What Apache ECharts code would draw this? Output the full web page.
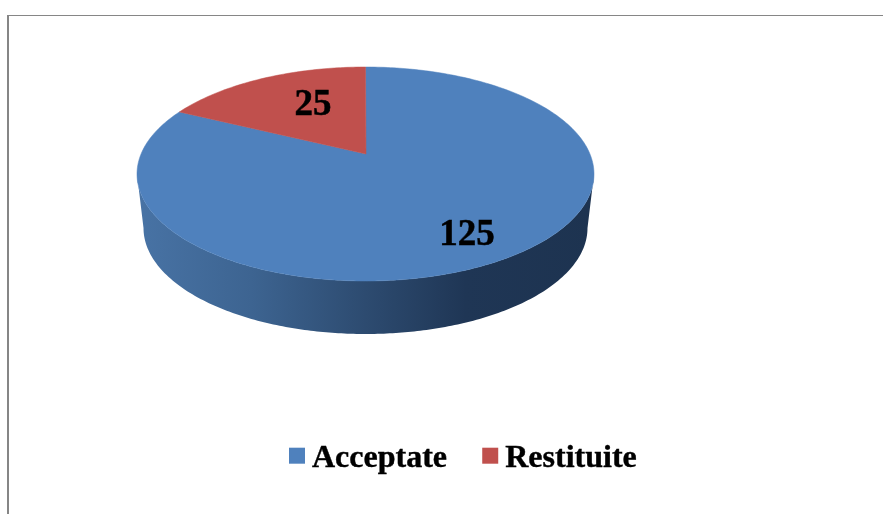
<!DOCTYPE html>
<html>
<head>
<meta charset="utf-8">
<style>html,body{margin:0;padding:0;background:#fff}#c{width:883px;height:514px}</style>
<script src="https://cdn.jsdelivr.net/npm/echarts@6/dist/echarts.min.js"></script>
</head>
<body>
<div id="c"></div>
<script>
const categories = ['Acceptate', 'Restituite'];
const values = [125, 25];
const colors = ['#4f81bd', '#c0504d'];

// Projection of the tilted disc on the page
const top_ = { cx: 365.5, cy: 174, rx: 228.5, ry: 107 };
const bottom_ = { cx: 365.5, cy: 228, rx: 222, ry: 106 };
const apex = { x: 366, y: 154 };
const perspectiveDeg = 6.3;
const labelPos = [{ x: 467, y: 235 }, { x: 313, y: 105 }];
const serif = '"Liberation Serif","Times New Roman",serif';

const total = values.reduce((a, b) => a + b, 0);
const rad = d => d * Math.PI / 180;
const warp = d => d - perspectiveDeg * Math.sin(rad(2 * d));
const rim = (e, d) => {
  const t = rad(warp(d));
  return [e.cx + e.rx * Math.sin(t), e.cy - e.ry * Math.cos(t)];
};
function arc(e, a, b) {
  const pts = [];
  const n = Math.max(2, Math.ceil(Math.abs(b - a)));
  for (let i = 0; i <= n; i++) pts.push(rim(e, a + (b - a) * i / n));
  return pts;
}

function renderSlice(index) {
  return function (params, api) {
    const val = api.value(0);
    const before = values.slice(0, index).reduce((a, b) => a + b, 0);
    const a = before / total * 360;
    const b = a + val / total * 360;
    const color = colors[index];
    const children = [];
    const s0 = Math.max(a, 90), s1 = Math.min(b, 270);
    if (s1 > s0) {
      children.push({
        type: 'polygon',
        shape: { points: arc(top_, s0, s1).concat(arc(bottom_, s1, s0)) },
        style: {
          fill: {
            type: 'linear', x: 0, y: 0, x2: 1, y2: 0,
            colorStops: [
              { offset: 0, color: '#4873a5' },
              { offset: 0.25, color: '#3d6491' },
              { offset: 0.5, color: '#2d4b70' },
              { offset: 0.72, color: '#1f3655' },
              { offset: 1, color: '#1d3350' }
            ]
          }
        }
      });
    }
    children.push({
      type: 'polygon',
      shape: { points: [[apex.x, apex.y]].concat(arc(top_, a, b)) },
      style: { fill: color, stroke: color, lineWidth: 0.5 }
    });
    children.push({
      type: 'text',
      z2: 10,
      style: {
        text: String(val),
        x: labelPos[index].x,
        y: labelPos[index].y,
        align: 'center',
        verticalAlign: 'middle',
        font: 'bold 37px ' + serif,
        fill: '#000',
        stroke: '#000',
        lineWidth: 0.5
      }
    });
    return { type: 'group', children };
  };
}

const chart = echarts.init(document.getElementById('c'), null, { renderer: 'canvas' });
chart.setOption({
  animation: false,
  backgroundColor: '#fff',
  legend: {
    data: categories,
    left: 289,
    top: 443,
    icon: 'rect',
    itemWidth: 16,
    itemHeight: 16,
    itemGap: 35,
    padding: 0,
    formatter: '{t|{name}}',
    textStyle: {
      rich: {
        t: {
          fontFamily: serif, fontWeight: 'bold', fontSize: 32, color: '#000',
          padding: [7, 0, 0, 2],
          textBorderColor: '#000',
          textBorderWidth: 0.4
        }
      }
    }
  },
  graphic: [
    { type: 'rect', shape: { x: 7, y: 15, width: 876, height: 1 }, style: { fill: '#868686' } },
    { type: 'rect', shape: { x: 7, y: 15, width: 2, height: 499 }, style: { fill: '#868686' } }
  ],
  series: categories.map((name, i) => ({
    type: 'custom',
    name,
    coordinateSystem: 'none',
    itemStyle: { color: colors[i] },
    renderItem: renderSlice(i),
    data: [[values[i]]]
  }))
});
</script>
</body>
</html>
